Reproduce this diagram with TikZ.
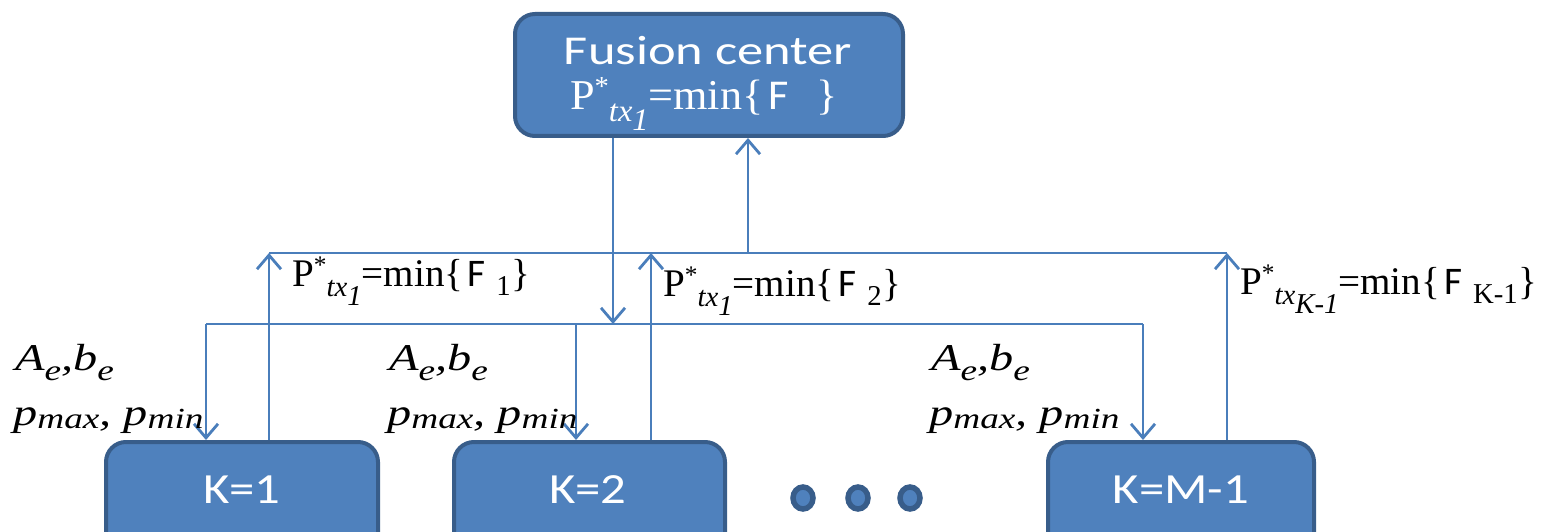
\documentclass[tikz,border=0pt]{standalone}
\usepackage{fontspec}
\usepackage{graphicx}
\setmainfont{Liberation Serif}
\newfontfamily\calib{Carlito}
\usetikzlibrary{arrows.meta,shapes.geometric}
\definecolor{boxfill}{HTML}{4F81BD}
\definecolor{boxedge}{HTML}{385D8A}
\definecolor{wirec}{HTML}{4A7EBB}
\newcommand\subsz{\fontsize{25}{25}\selectfont}
\newcommand\psubsz{\fontsize{27}{27}\selectfont}
\newcommand\Pst[2]{P\raisebox{0.33em}{\fontsize{22}{22}\selectfont *}\raisebox{-0.27em}{\subsz\itshape tx\raisebox{-0.3em}{#1}}=min\{\kern4pt{\calib\fontsize{34}{34}\selectfont F}\kern9pt\raisebox{-0.25em}{\subsz #2}\kern1pt\}}
\newcommand\Aeb{{\itshape A\raisebox{-0.28em}{\psubsz e},b\raisebox{-0.28em}{\psubsz e}}}
\newcommand\pmm{{\itshape p\raisebox{-0.1em}{\psubsz max}, p\raisebox{-0.1em}{\psubsz min}}}
\tikzset{
  x=1pt, y=-1pt,
  box/.style={draw=boxedge, line width=4pt, fill=boxfill, rounded corners=20pt, inner sep=0pt},
  wire/.style={draw=wirec, line width=2.8pt},
  arr/.style={wire, -{Straight Barb[length=14pt,width=24pt]}},
  lbl/.style={anchor=base west, inner sep=0pt, font=\fontsize{34}{34}\selectfont},
  plbl/.style={anchor=base west, inner sep=0pt, font=\fontsize{35}{35}\selectfont},
  ktext/.style={anchor=base, inner sep=0pt, text=white, font=\calib\fontsize{43}{43}\selectfont},
  dot/.style={ellipse, draw=boxedge, fill=boxfill, line width=5.5pt, minimum width=20pt, minimum height=22pt, inner sep=0pt},
}
\begin{document}
\begin{tikzpicture}
\path[use as bounding box] (0,0) rectangle (1552,532);
\clip (0,0) rectangle (1552,532);

% boxes
\node[box, minimum width=388pt, minimum height=122pt] (fc) at (709,75) {};
\node[box, minimum width=272pt, minimum height=112pt] (k1) at (242,498) {};
\node[box, minimum width=271pt, minimum height=112pt] (k2) at (589.5,498) {};
\node[box, minimum width=266pt, minimum height=112pt] (k3) at (1181,498) {};

% box texts
\node[anchor=base, inner sep=0pt, text=white, font=\calib\fontsize{41}{41}\selectfont] (fct) at (708,65) {\scalebox{1.28}[1]{Fusion center}};
\node[anchor=base, inner sep=0pt, text=white, font=\fontsize{34}{34}\selectfont] (fcp) at (704,110) {\scalebox{1.3}[1.25]{\Pst{1}{\hspace{0.45em}}}};
\node[ktext] (k1t) at (242,503) {\scalebox{1.18}[1]{K=1}};
\node[ktext] (k2t) at (588,503) {\scalebox{1.18}[1]{K=2}};
\node[ktext] (k3t) at (1181,503) {\scalebox{1.18}[1]{K=M-1}};

% dots
\node[dot] (d1) at (803,498) {};
\node[dot] (d2) at (858,498) {};
\node[dot] (d3) at (910,498) {};

% coordinates of buses
\coordinate (dn) at (613,324);
\coordinate (l1) at (206,324);
\coordinate (l2) at (576,324);
\coordinate (l3) at (1143,324);
\coordinate (up) at (748,253);
\coordinate (u1) at (269,253);
\coordinate (u2) at (651,253);
\coordinate (u3) at (1227,253);

% wires
\draw[wire] (l1) -- (l3);
\draw[wire] (u1) -- (u3);
\draw[arr] (fc.south -| dn) -- (dn);
\draw[arr] (up) -- (fc.south -| up);
\draw[arr] (l1) -- (k1.north -| l1);
\draw[arr] (l2) -- (k2.north -| l2);
\draw[arr] (l3) -- (k3.north -| l3);
\draw[arr] (k1.north -| u1) -- (u1);
\draw[arr] (k2.north -| u2) -- (u2);
\draw[arr] (k3.north -| u3) -- (u3);

% P labels
\node[lbl] (p1) at (292,286) {\scalebox{1.15}[1.15]{\Pst{1}{1}}};
\node[lbl] (p2) at (663,296) {\scalebox{1.15}[1.15]{\Pst{1}{2}}};
\node[lbl] (p3) at (1240,294) {\scalebox{1.15}[1.15]{\Pst{K-1}{K-1}}};

% parameter labels
\node[plbl] (a1) at (15,370) {\scalebox{1.38}[1.08]{\Aeb}};
\node[plbl] (b1) at (13,425) {\scalebox{1.38}[1.08]{\pmm}};
\node[plbl] (a2) at (389,370) {\scalebox{1.38}[1.08]{\Aeb}};
\node[plbl] (b2) at (387,425) {\scalebox{1.38}[1.08]{\pmm}};
\node[plbl] (a3) at (931,370) {\scalebox{1.38}[1.08]{\Aeb}};
\node[plbl] (b3) at (929,425) {\scalebox{1.38}[1.08]{\pmm}};
\end{tikzpicture}
\end{document}
